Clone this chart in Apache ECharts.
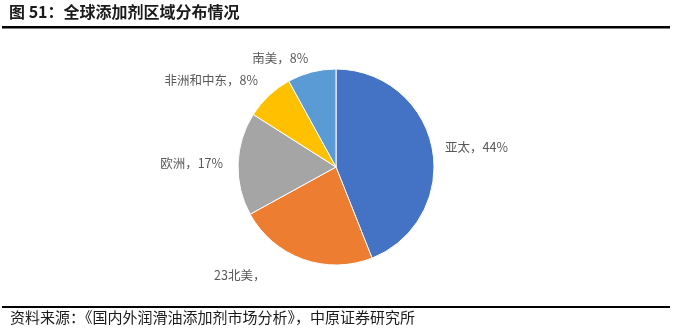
<!DOCTYPE html>
<html><head><meta charset="utf-8">
<script src="https://cdn.jsdelivr.net/npm/echarts@6/dist/echarts.min.js"></script>
<style>html,body{margin:0;padding:0;background:#fff}#c{width:697px;height:332px}</style>
</head><body><div id="c"></div>
<script>
var titleText = '图 51：全球添加剂区域分布情况';
var sourceText = '资料来源：《国内外润滑油添加剂市场分析》，中原证券研究所';
var categories = ['亚太', '北美', '欧洲', '非洲和中东', '南美'];
var values = [44, 23, 17, 8, 8];
var labelTexts = ['亚太，44%', '23北美，', '欧洲，17%', '非洲和中东，8%', '南美，8%'];
var colors = ['#4472C4', '#ED7D31', '#A5A5A5', '#FFC000', '#5B9BD5'];

var labelShift = [[-4, 0], [-27, 7], [2, 0], [3, -8], [6, -4]];

var chart = echarts.init(document.getElementById('c'), null, {renderer: 'canvas'});
var font = '"Noto Sans CJK SC", "Noto Sans", sans-serif';
chart.setOption({
  animation: false,
  backgroundColor: '#fff',
  graphic: [
    {type: 'text', left: 9, top: 4, style: {text: titleText, font: 'bold 16px ' + font, fill: '#1a1a1a'}},
    {type: 'rect', shape: {x: 2, y: 26, width: 668, height: 2.5}, style: {fill: '#000'}},
    {type: 'rect', shape: {x: 2, y: 306, width: 668, height: 2}, style: {fill: '#000'}},
    {type: 'text', left: 10, top: 310, style: {text: sourceText, font: '15px ' + font, fill: '#1a1a1a'}}
  ],
  series: [{
    type: 'pie',
    center: [336, 167],
    radius: [0, 98],
    startAngle: 90,
    clockwise: true,
    data: categories.map(function (c, i) {
      return {name: c, value: values[i], itemStyle: {color: colors[i]}, label: {formatter: labelTexts[i]}};
    }),
    itemStyle: {borderColor: '#fff', borderWidth: 1},
    label: {show: true, position: 'outside', color: '#595959', fontSize: 12.5, fontFamily: font},
    labelLine: {show: false, length: 10, length2: 2},
    labelLayout: function (p) { var s = labelShift[p.dataIndex]; return {dx: s[0], dy: s[1]}; },
    emphasis: {disabled: true}
  }]
});
</script></body></html>
